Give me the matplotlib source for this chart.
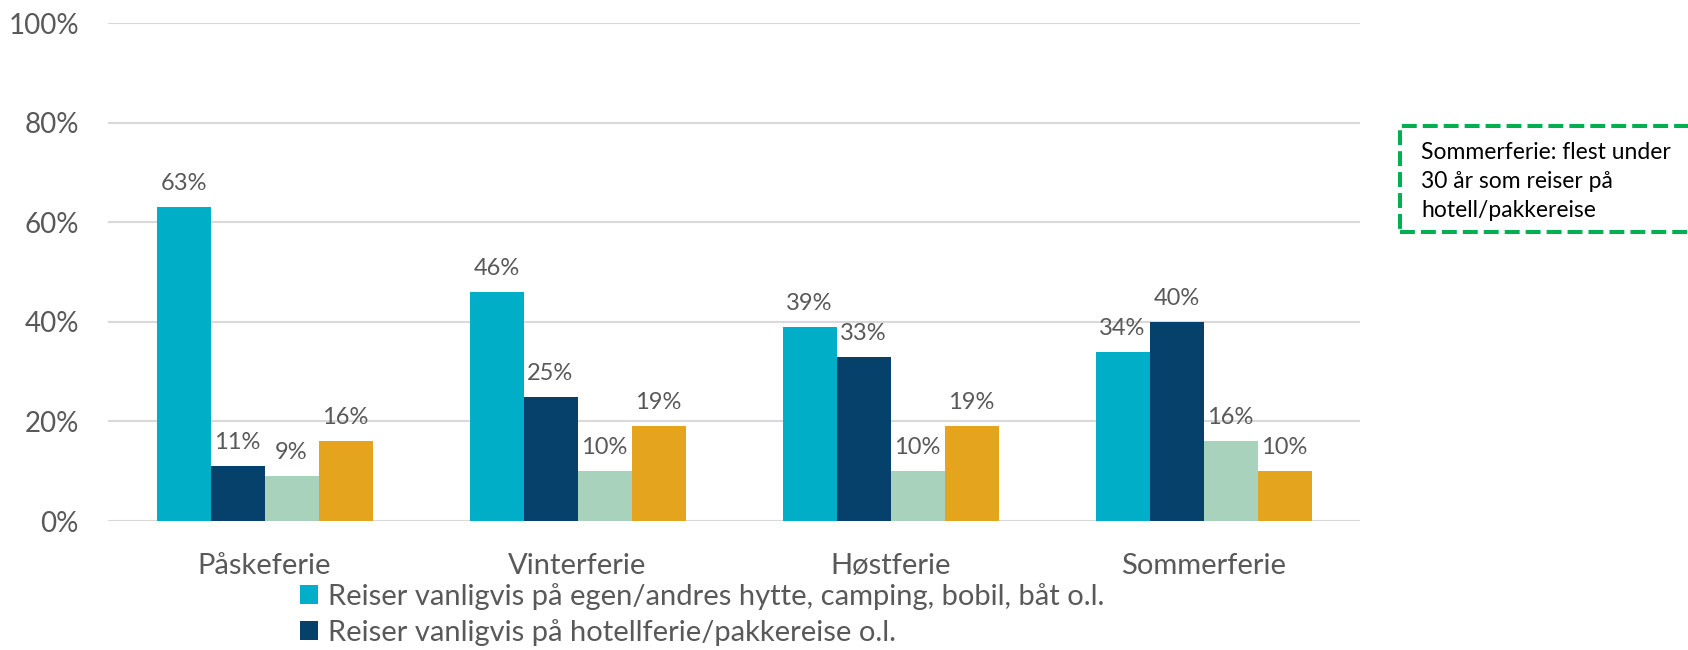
import matplotlib
matplotlib.use("Agg")
import matplotlib.pyplot as plt
from matplotlib.patches import Rectangle, Patch
import numpy as np

categories = ["Påskeferie", "Vinterferie", "Høstferie", "Sommerferie"]
hytte = [63, 46, 39, 34]
hotell = [11, 25, 33, 40]
serie3 = [9, 10, 10, 16]
serie4 = [16, 19, 19, 10]
legend_labels = ["Reiser vanligvis på egen/andres hytte, camping, bobil, båt o.l.",
                 "Reiser vanligvis på hotellferie/pakkereise o.l."]
yticks = [0, 20, 40, 60, 80, 100]
note = "Sommerferie: flest under\n30 år som reiser på\nhotell/pakkereise"

colors = ["#00AEC7", "#05416A", "#A9D2BD", "#E5A41E"]
series = [hytte, hotell, serie3, serie4]

plt.rcParams['font.family'] = ['Lato', 'DejaVu Sans']

W, H = 1688, 650
fig = plt.figure(figsize=(W / 100, H / 100), dpi=100)
ax = fig.add_axes([108 / W, 1 - 521 / H, (1360 - 108) / W, (521 - 23) / H])

x = np.arange(len(categories))
bw = 54 / 313
offsets = [-1.5, -0.5, 0.5, 1.5]
for s, vals, col, off in zip(range(4), series, colors, offsets):
    bars = ax.bar(x + off * bw, vals, width=bw, color=col, zorder=3)
    for b, v in zip(bars, vals):
        ax.annotate(f"{v}%", (b.get_x() + b.get_width() / 2, v),
                    xytext=(0, 17), textcoords="offset pixels",
                    ha="center", va="baseline", fontsize=17,
                    color="#595959")

ax.set_xlim(-0.5, len(categories) - 0.5)
ax.set_ylim(0, 100)
ax.set_yticks(yticks)
ax.set_yticklabels([f"{t}%" for t in yticks])
ax.set_xticks(x)
ax.set_xticklabels(categories)
ax.grid(axis="y", color="#D9D9D9", linewidth=1.5, zorder=0)
ax.set_axisbelow(True)
for sp in ax.spines.values():
    sp.set_visible(False)
ax.tick_params(axis="both", length=0, labelcolor="#595959", labelsize=20)
ax.tick_params(axis="y", pad=21)
ax.tick_params(axis="x", pad=23, labelsize=21)

handles = [Patch(facecolor=colors[0]), Patch(facecolor=colors[1])]
leg = fig.legend(handles, legend_labels, loc="upper left",
                 bbox_to_anchor=(300 / W, 1 - 583 / H), frameon=False,
                 fontsize=21, handlelength=0.6, handleheight=0.6,
                 handletextpad=0.35, labelspacing=0.3, borderpad=0,
                 borderaxespad=0)
for t in leg.get_texts():
    t.set_color("#595959")

rect = Rectangle((1400 / W, 1 - 232 / H), 330 / W, 106 / H,
                 transform=fig.transFigure, fill=False,
                 edgecolor="#00B050", linewidth=2.9,
                 linestyle=(0, (3.7, 1.5)))
fig.patches.append(rect)
fig.text(1421 / W, 1 - 142 / H, note, ha="left", va="top", fontsize=16.5,
         color="black", linespacing=1.48)

fig.savefig("out.png", dpi=100)
